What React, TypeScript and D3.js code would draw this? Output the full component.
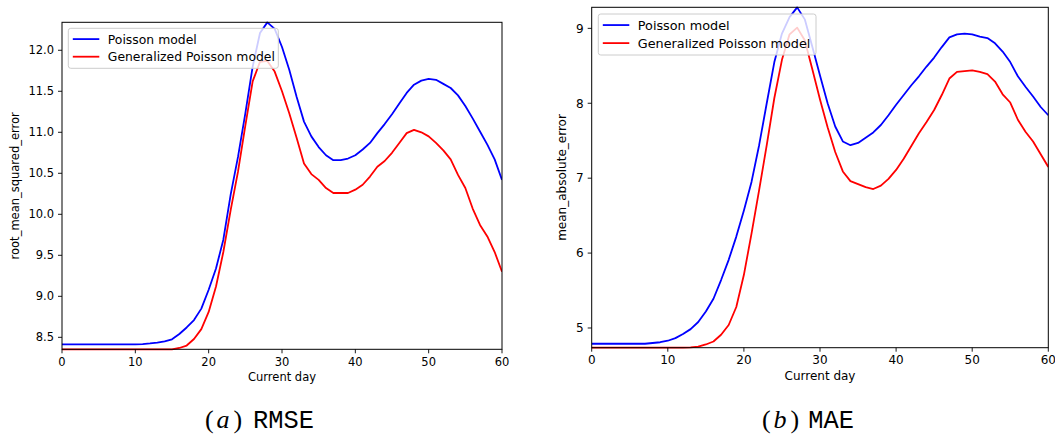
import React from "react";
import * as d3 from "d3";

const days: number[] = d3.range(0, 61);
const xTicks: number[] = [0, 10, 20, 30, 40, 50, 60];

const rmseTicks: number[] = [8.5, 9.0, 9.5, 10.0, 10.5, 11.0, 11.5, 12.0];
const maeTicks: number[] = [5, 6, 7, 8, 9];

const seriesNames: string[] = ["Poisson model", "Generalized Poisson model"];
const seriesColors: string[] = ["#0000ff", "#ff0000"];

const rmsePoisson: number[] = [
  8.415, 8.415, 8.415, 8.415, 8.415, 8.415, 8.415, 8.415, 8.415, 8.415, 8.415,
  8.418, 8.425, 8.435, 8.45, 8.476, 8.54, 8.62, 8.71, 8.85, 9.08,
  9.34, 9.69, 10.24, 10.7, 11.23, 11.8, 12.21, 12.34, 12.26, 12.04,
  11.76, 11.43, 11.13, 10.95, 10.82, 10.72, 10.66, 10.66, 10.68, 10.72,
  10.79, 10.87, 10.99, 11.1, 11.22, 11.35, 11.48, 11.58, 11.63, 11.65,
  11.64, 11.59, 11.54, 11.45, 11.32, 11.17, 11.01, 10.85, 10.67, 10.42,
];

const rmseGP: number[] = [
  8.354, 8.354, 8.354, 8.354, 8.354, 8.354, 8.354, 8.354, 8.354, 8.354, 8.354,
  8.354, 8.354, 8.354, 8.354, 8.354, 8.37, 8.4, 8.48, 8.6, 8.81,
  9.12, 9.54, 10.05, 10.52, 11.08, 11.62, 11.86, 11.87, 11.74, 11.5,
  11.23, 10.93, 10.62, 10.49, 10.42, 10.32, 10.26, 10.26, 10.26, 10.3,
  10.36, 10.46, 10.58, 10.65, 10.75, 10.87, 10.99, 11.03, 11.0, 10.95,
  10.87, 10.78, 10.67, 10.48, 10.32, 10.07, 9.87, 9.73, 9.54, 9.3,
];

const maePoisson: number[] = [
  4.79, 4.79, 4.79, 4.79, 4.79, 4.79, 4.79, 4.79, 4.8, 4.81, 4.83,
  4.865, 4.92, 4.985, 5.08, 5.22, 5.39, 5.64, 5.91, 6.22, 6.57,
  6.95, 7.44, 8.0, 8.55, 8.93, 9.15, 9.28, 9.12, 8.75, 8.37,
  8.0, 7.69, 7.49, 7.44, 7.47, 7.54, 7.61, 7.71, 7.84, 7.98,
  8.11, 8.24, 8.36, 8.49, 8.61, 8.75, 8.88, 8.92, 8.93, 8.92,
  8.89, 8.87, 8.8, 8.69, 8.55, 8.36, 8.22, 8.09, 7.95, 7.84,
];

const maeGP: number[] = [
  4.737, 4.737, 4.737, 4.737, 4.737, 4.737, 4.737, 4.737, 4.737, 4.737, 4.737,
  4.737, 4.737, 4.74, 4.75, 4.78, 4.82, 4.91, 5.04, 5.28, 5.71,
  6.26, 6.84, 7.44, 8.07, 8.58, 8.92, 9.01, 8.84, 8.45, 8.05,
  7.68, 7.35, 7.09, 6.96, 6.92, 6.88, 6.855, 6.9, 6.99, 7.11,
  7.26, 7.43, 7.6, 7.75, 7.91, 8.11, 8.33, 8.42, 8.43, 8.44,
  8.42, 8.39, 8.29, 8.12, 8.01, 7.78, 7.62, 7.49, 7.32, 7.15,
];

type PanelProps = {
  left: number;
  right: number;
  top: number;
  bottom: number;
  yDomain: [number, number];
  yTicks: number[];
  yFormat: (v: number) => string;
  yLabel: string;
  yLabelX: number;
  series: number[][];
  legend: { x: number; y: number; w: number; h: number };
  fs: number;
  legendFs: number;
};

const SANS = "'DejaVu Sans', sans-serif";

function Panel(p: PanelProps) {
  const x = d3.scaleLinear().domain([0, 60]).range([p.left, p.right]);
  const y = d3.scaleLinear().domain(p.yDomain).range([p.bottom, p.top]);
  const line = d3
    .line<number>()
    .x((_, i) => x(days[i]))
    .y((v) => y(v));
  const clipId = `clip-${Math.round(p.left)}`;
  const tick = 4;
  const L = p.legend;
  return (
    <g>
      <defs>
        <clipPath id={clipId}>
          <rect x={p.left} y={p.top - 2} width={p.right - p.left} height={p.bottom - p.top + 4} />
        </clipPath>
      </defs>
      <g clipPath={`url(#${clipId})`}>
        {p.series.map((s, i) => (
          <path
            key={i}
            d={line(s) || ""}
            fill="none"
            stroke={seriesColors[i]}
            strokeWidth={1.8}
            strokeLinejoin="round"
          />
        ))}
      </g>
      {/* legend */}
      <rect
        x={L.x}
        y={L.y}
        width={L.w}
        height={L.h}
        rx={2.5}
        fill="#ffffff"
        fillOpacity={0.8}
        stroke="#cccccc"
        strokeWidth={1}
      />
      {seriesNames.map((n, i) => {
        const cy = L.y + L.h * 0.27 + L.h * 0.44 * i;
        return (
          <g key={n}>
            <line
              x1={L.x + 4.5}
              x2={L.x + 31}
              y1={cy}
              y2={cy}
              stroke={seriesColors[i]}
              strokeWidth={1.8}
            />
            <text
              x={L.x + 39.5}
              y={cy}
              dy="0.36em"
              fontFamily={SANS}
              fontSize={p.legendFs}
              fill="#000"
            >
              {n}
            </text>
          </g>
        );
      })}
      {/* spines */}
      <rect
        x={p.left}
        y={p.top}
        width={p.right - p.left}
        height={p.bottom - p.top}
        fill="none"
        stroke="#000"
        strokeWidth={1}
      />
      {/* x ticks */}
      {xTicks.map((t) => (
        <g key={t}>
          <line x1={x(t)} x2={x(t)} y1={p.bottom} y2={p.bottom + tick} stroke="#000" strokeWidth={0.9} />
          <text
            x={x(t)}
            y={p.bottom + tick + 3.5}
            dy="0.76em"
            textAnchor="middle"
            fontFamily={SANS}
            fontSize={p.fs}
            fill="#000"
          >
            {t}
          </text>
        </g>
      ))}
      {/* y ticks */}
      {p.yTicks.map((t) => (
        <g key={t}>
          <line x1={p.left - tick} x2={p.left} y1={y(t)} y2={y(t)} stroke="#000" strokeWidth={0.9} />
          <text
            x={p.left - tick - 4}
            y={y(t)}
            dy="0.36em"
            textAnchor="end"
            fontFamily={SANS}
            fontSize={p.fs}
            fill="#000"
          >
            {p.yFormat(t)}
          </text>
        </g>
      ))}
      <text
        x={(p.left + p.right) / 2}
        y={p.bottom + 32}
        textAnchor="middle"
        fontFamily={SANS}
        fontSize={p.fs}
        fill="#000"
      >
        Current day
      </text>
      <text
        transform={`translate(${p.yLabelX},${(p.top + p.bottom) / 2}) rotate(-90)`}
        textAnchor="middle"
        dy="0.36em"
        fontFamily={SANS}
        fontSize={p.fs}
        fill="#000"
      >
        {p.yLabel}
      </text>
    </g>
  );
}

const SERIF = "'Liberation Serif', 'DejaVu Serif', serif";
const MONO = "'Liberation Mono', 'DejaVu Sans Mono', monospace";

function Caption(props: { x: number; letter: string; word: string; wordX: number }) {
  const base = 427.5;
  const { x } = props;
  return (
    <text y={base} fill="#000">
      <tspan x={x} fontFamily={SERIF} fontSize={26}>(</tspan>
      <tspan x={x + 11.5} fontFamily={SERIF} fontSize={26} fontStyle="italic">{props.letter}</tspan>
      <tspan x={x + 28.5} fontFamily={SERIF} fontSize={26}>)</tspan>
      <tspan x={props.wordX} fontFamily={MONO} fontSize={25.4}>{props.word}</tspan>
    </text>
  );
}

export default function App() {
  return (
    <svg
      width={1055}
      height={436}
      style={{ position: "absolute", left: 0, top: 0, background: "#fff" }}
    >
      <rect x={0} y={0} width={1055} height={436} fill="#fff" />
      <Panel
        left={62}
        right={502}
        top={22.3}
        bottom={349.3}
        yDomain={[8.354, 12.341]}
        yTicks={rmseTicks}
        yFormat={d3.format(".1f")}
        yLabel="root_mean_squared_error"
        yLabelX={15}
        series={[rmsePoisson, rmseGP]}
        legend={{ x: 68.3, y: 28.3, w: 210, h: 40 }}
        fs={11.5}
        legendFs={12.4}
      />
      <Panel
        left={591.7}
        right={1048.3}
        top={7.3}
        bottom={347.7}
        yDomain={[4.737, 9.281]}
        yTicks={maeTicks}
        yFormat={d3.format("d")}
        yLabel="mean_absolute_error"
        yLabelX={562}
        series={[maePoisson, maeGP]}
        legend={{ x: 598.3, y: 14, w: 217.7, h: 41 }}
        fs={12}
        legendFs={12.8}
      />
      <Caption x={205} letter="a" word="RMSE" wordX={253} />
      <Caption x={762} letter="b" word="MAE" wordX={808.3} />
    </svg>
  );
}
